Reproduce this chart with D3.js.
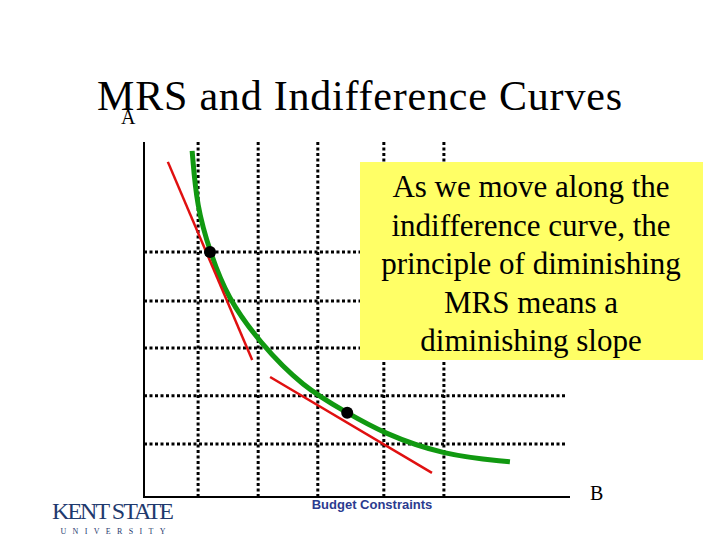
<!DOCTYPE html>
<html><head><meta charset="utf-8">
<script src="https://cdn.jsdelivr.net/npm/d3@7"></script>
<style>body{margin:0;background:#fff}</style>
</head><body>
<script>
// chart values (axis units 0..10)
const gridX = [1.27, 2.68, 4.08, 5.63, 7.04]
const gridY = [6.9, 5.52, 4.2, 2.85, 1.49]
const curve = [[1.13,9.75],[1.24,8.17],[1.55,6.90],[1.95,5.63],[2.72,4.34],[3.73,3.10],[4.77,2.37],[5.61,1.80],[7.02,1.18],[8.59,0.99]]
const tangents = [[[0.56,9.44],[2.54,3.86]], [[2.96,3.38],[6.76,0.68]]]
const points = [[1.55,6.90],[4.77,2.37]]
const noteLines = ["As we move along the", "indifference curve, the", "principle of diminishing", "MRS means a", "diminishing slope"]

const serif = "'Times New Roman', 'Liberation Serif', serif"
const svg = d3.select("body").append("svg").attr("width", 720).attr("height", 540)
const x = d3.scaleLinear().domain([0, 10]).range([144, 570])
const y = d3.scaleLinear().domain([0, 10]).range([497, 142])

// title
svg.append("text").attr("x", 97).attr("y", 110).style("font-family", serif)
  .attr("font-size", 42).attr("textLength", 525).text("MRS and Indifference Curves")
svg.append("text").attr("x", 121).attr("y", 124).style("font-family", serif)
  .attr("font-size", 20).text("A")

// dotted grid
svg.selectAll(".gx").data(gridX).enter().append("line")
  .attr("x1", d => x(d)).attr("x2", d => x(d)).attr("y1", y(10)).attr("y2", y(0))
  .attr("stroke", "#000").attr("stroke-width", 3).attr("stroke-dasharray", "3,2.5")
svg.selectAll(".gy").data(gridY).enter().append("line")
  .attr("x1", x(0)).attr("x2", 566).attr("y1", d => y(d)).attr("y2", d => y(d))
  .attr("stroke", "#000").attr("stroke-width", 3).attr("stroke-dasharray", "3,2.5")

// axes
svg.append("path").attr("d", `M${x(0)},${y(10)}V${y(0)}H${x(10)}`)
  .attr("fill", "none").attr("stroke", "#000").attr("stroke-width", 2)

// note box
svg.append("rect").attr("x", 360).attr("y", 162).attr("width", 343).attr("height", 198).attr("fill", "#ffff66")
svg.selectAll(".note").data(noteLines).enter().append("text")
  .attr("x", 531).attr("y", (d, i) => 197 + i * 38.5).attr("text-anchor", "middle")
  .style("font-family", serif).attr("font-size", 31).text(d => d)

// curve, tangents, points
const line = d3.line().x(d => x(d[0])).y(d => y(d[1])).curve(d3.curveBasis)
svg.append("path").attr("d", line(curve)).attr("fill", "none").attr("stroke", "#119911").attr("stroke-width", 5)
svg.selectAll(".tan").data(tangents).enter().append("line")
  .attr("x1", d => x(d[0][0])).attr("y1", d => y(d[0][1])).attr("x2", d => x(d[1][0])).attr("y2", d => y(d[1][1]))
  .attr("stroke", "#e01010").attr("stroke-width", 2.5)
svg.selectAll(".pt").data(points).enter().append("circle")
  .attr("cx", d => x(d[0])).attr("cy", d => y(d[1])).attr("r", 6).attr("fill", "#000")

// labels
svg.append("text").attr("x", 590).attr("y", 500).style("font-family", serif).attr("font-size", 20).text("B")
svg.append("text").attr("x", 372).attr("y", 509).attr("text-anchor", "middle").attr("font-family", "Liberation Sans")
  .attr("font-weight", "bold").attr("font-size", 13).attr("fill", "#2b3b8f").text("Budget  Constraints")

// logo
svg.append("text").attr("x", 113).attr("y", 519).attr("text-anchor", "middle").style("font-family", serif)
  .attr("font-size", 24).attr("fill", "#1f3a6e").attr("textLength", 122).text("KENT STATE")
svg.append("text").attr("x", 113).attr("y", 534).attr("text-anchor", "middle").style("font-family", serif)
  .attr("font-size", 8).attr("fill", "#1f3a6e").attr("textLength", 105).text("UNIVERSITY")
</script>
</body></html>
